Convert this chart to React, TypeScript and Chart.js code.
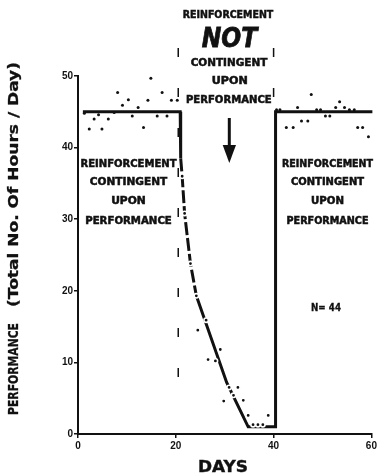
import { useEffect, useRef } from 'react';
import { Chart, registerables } from 'chart.js';

Chart.register(...registerables);

// ---- data ----
const phase1Days = [1.3, 2.3, 3.3, 4.2, 4.9, 6.2, 7.4, 8.1, 9.1, 10.3, 11.1, 12.3, 13.4, 14.3, 14.9, 16.2, 17.2, 18.2, 19.1, 20.3];
const phase1Hours = [44.8, 42.6, 44.0, 44.6, 42.6, 44.0, 44.9, 47.7, 45.9, 46.7, 44.4, 45.6, 42.8, 46.6, 49.7, 44.4, 47.7, 44.4, 46.6, 46.6];

const phase2Days = [21.3, 21.8, 23.0, 24.2, 24.5, 26.2, 26.6, 28.1, 29.1, 29.8, 30.9, 31.8, 32.7, 33.8, 34.8, 35.8, 36.8, 37.8, 38.9];
const phase2Hours = [36.0, 30.8, 23.8, 19.3, 14.5, 15.9, 10.4, 10.2, 11.8, 4.6, 6.5, 5.4, 6.5, 4.7, 2.6, 1.3, 1.3, 1.3, 2.6];

const phase3Days = [40.6, 41.3, 42.6, 44.0, 44.9, 45.7, 47.0, 47.7, 48.8, 49.6, 50.6, 51.5, 52.7, 53.5, 54.5, 55.5, 56.5, 57.2, 58.2, 59.4];
const phase3Hours = [45.3, 45.3, 42.8, 42.8, 45.6, 43.7, 43.7, 47.4, 45.3, 45.3, 44.4, 44.4, 45.6, 46.4, 45.6, 45.3, 45.3, 42.8, 42.8, 41.5];

const trendDays = [1.0, 20.9, 21.0, 21.3, 21.8, 23.0, 24.2, 30.4, 34.8, 40.4, 40.4, 60.2];
const trendHours = [45, 45, 38.5, 36.0, 30.8, 23.8, 19.3, 7.2, 1.0, 1.0, 45, 45];

const phaseBoundaries = [20.5, 40.0];

const xTicks = [0, 20, 40, 60];
const yTicks = [0, 10, 20, 30, 40, 50];

const topNote = ['REINFORCEMENT', 'NOT', 'CONTINGENT', 'UPON', 'PERFORMANCE'];
const sideNote = ['REINFORCEMENT', 'CONTINGENT', 'UPON', 'PERFORMANCE'];
const sampleNote = 'N= 44';
const yTitle = ['PERFORMANCE', '(Total No. Of Hours / Day)'];
const xTitle = 'DAYS';

const FONT = '"DejaVu Sans", "Liberation Sans", sans-serif';
const INK = '#111';

function toPoints(xs: number[], ys: number[]) {
  return xs.map((x, i) => ({ x, y: ys[i] }));
}

function fitText(
  ctx: CanvasRenderingContext2D,
  text: string,
  cx: number,
  baseY: number,
  width: number,
  size: number,
  italic = false,
  rotate = false,
  heavy = 0.5
) {
  ctx.save();
  ctx.font = `${italic ? 'italic ' : ''}bold ${size}px ${FONT}`;
  const w = ctx.measureText(text).width;
  ctx.translate(cx, baseY);
  if (rotate) ctx.rotate(-Math.PI / 2);
  ctx.scale(width / w, 1);
  ctx.textAlign = 'center';
  ctx.textBaseline = 'alphabetic';
  ctx.fillStyle = INK;
  ctx.strokeStyle = INK;
  ctx.lineWidth = heavy;
  ctx.fillText(text, 0, 0);
  if (heavy > 0) ctx.strokeText(text, 0, 0);
  ctx.restore();
}

const annotations = {
  id: 'annotations',
  beforeDatasetsDraw(chart: any) {
    const ctx: CanvasRenderingContext2D = chart.ctx;
    const xs = chart.scales.x;
    ctx.save();
    ctx.strokeStyle = INK;
    ctx.lineWidth = 1.5;
    ctx.setLineDash([9, 31]);
    phaseBoundaries.forEach((d, i) => {
      const px = xs.getPixelForValue(d);
      ctx.beginPath();
      ctx.moveTo(px, 48);
      ctx.lineTo(px, i === 0 ? 408 : 112);
      ctx.stroke();
    });
    ctx.restore();
  },
  afterDraw(chart: any) {
    const ctx: CanvasRenderingContext2D = chart.ctx;
    // top block
    const topSpec = [
      { cx: 228, by: 17.5, w: 90.6, s: 9.6, it: false },
      { cx: 229.5, by: 47, w: 55.6, s: 27.4, it: true },
      { cx: 229, by: 65.5, w: 76.6, s: 9.6, it: false },
      { cx: 229.7, by: 84.2, w: 36, s: 9.6, it: false },
      { cx: 228.8, by: 102.8, w: 85.7, s: 9.6, it: false },
    ];
    topNote.forEach((t, i) => {
      const s = topSpec[i];
      fitText(ctx, t, s.cx, s.by, s.w, s.s, s.it, false, s.it ? 0.8 : 0.5);
    });
    // side blocks
    const sideBase = [166.8, 185.2, 204.2, 223.5];
    const leftW = [96, 77.3, 34.7, 86.6];
    const rightW = [91, 73, 33, 82];
    sideNote.forEach((t, i) => {
      fitText(ctx, t, 128.5, sideBase[i], leftW[i], 9.6);
      fitText(ctx, t, 327.5, sideBase[i], rightW[i], 9.6);
    });
    // N
    fitText(ctx, sampleNote, 326, 311, 30, 9.6, false, false, 0.3);
    // arrow
    ctx.save();
    ctx.strokeStyle = INK;
    ctx.fillStyle = INK;
    ctx.lineWidth = 3;
    ctx.beginPath();
    ctx.moveTo(229.3, 118);
    ctx.lineTo(229.3, 150);
    ctx.stroke();
    ctx.beginPath();
    ctx.moveTo(222.7, 145);
    ctx.lineTo(236, 145);
    ctx.lineTo(229.3, 163);
    ctx.closePath();
    ctx.fill();
    ctx.restore();
    // axis titles
    fitText(ctx, yTitle[0], 17.5, 369, 92, 14, false, true, 0.3);
    fitText(ctx, yTitle[1], 17.5, 184.5, 245, 14, false, true, 0.3);
    fitText(ctx, xTitle, 223, 472, 50, 16, false, false, 0.4);
  },
};

export default function App() {
  const ref = useRef<HTMLCanvasElement | null>(null);

  useEffect(() => {
    if (!ref.current) return;
    const tickFont = { family: '"Liberation Sans", "DejaVu Sans", sans-serif', size: 10, weight: 'bold' as const };
    const chart = new Chart(ref.current, {
      type: 'scatter',
      data: {
        datasets: [
          {
            data: toPoints(phase1Days, phase1Hours),
            pointRadius: 1.5,
            pointBackgroundColor: INK,
            pointBorderWidth: 0,
            clip: false as any,
          },
          {
            data: toPoints(phase2Days, phase2Hours),
            pointRadius: 2.2,
            pointBackgroundColor: INK,
            pointBorderColor: '#fff',
            pointBorderWidth: 1.6,
            clip: false as any,
          },
          {
            data: toPoints(phase3Days, phase3Hours),
            pointRadius: 1.5,
            pointBackgroundColor: INK,
            pointBorderWidth: 0,
            clip: false as any,
          },
          {
            data: toPoints(trendDays, trendHours),
            showLine: true,
            pointRadius: 0,
            borderColor: INK,
            borderWidth: 3,
            borderJoinStyle: 'miter',
            borderCapStyle: 'butt',
            tension: 0,
            clip: false as any,
            segment: {
              borderDash: (c: any) => (c.p0DataIndex >= 2 && c.p0DataIndex <= 5 ? [13, 3] : undefined),
            },
          } as any,
        ],
      },
      options: {
        animation: false,
        responsive: false,
        devicePixelRatio: 1,
        layout: { padding: { left: 0, right: 5, top: 76, bottom: 0 } },
        plugins: { legend: { display: false }, tooltip: { enabled: false } },
        scales: {
          x: {
            type: 'linear',
            min: 0,
            max: 60,
            afterBuildTicks: (s: any) => {
              s.ticks = xTicks.map((v) => ({ value: v }));
            },
            afterFit: (s: any) => {
              s.height = 42;
              s.paddingLeft = 0;
              s.paddingRight = 0;
            },
            grid: { drawOnChartArea: false, drawTicks: true, tickLength: 4, color: INK, lineWidth: 1.5 },
            border: { color: INK, width: 2 },
            ticks: { color: INK, font: tickFont, padding: 2, maxRotation: 0, autoSkip: false },
          },
          y: {
            type: 'linear',
            min: 0,
            max: 50,
            afterBuildTicks: (s: any) => {
              s.ticks = yTicks.map((v) => ({ value: v }));
            },
            afterFit: (s: any) => {
              s.width = 78;
            },
            grid: { drawOnChartArea: false, drawTicks: true, tickLength: 4, color: INK, lineWidth: 1.5 },
            border: { color: INK, width: 2 },
            ticks: { color: INK, font: tickFont, padding: 1, autoSkip: false },
          },
        },
      },
      plugins: [annotations],
    });
    return () => chart.destroy();
  }, []);

  return (
    <div style={{ position: 'absolute', left: 0, top: 0, width: 377, height: 476, background: '#fff', overflow: 'hidden' }}>
      <canvas ref={ref} width={377} height={476} style={{ display: 'block' }} />
    </div>
  );
}
